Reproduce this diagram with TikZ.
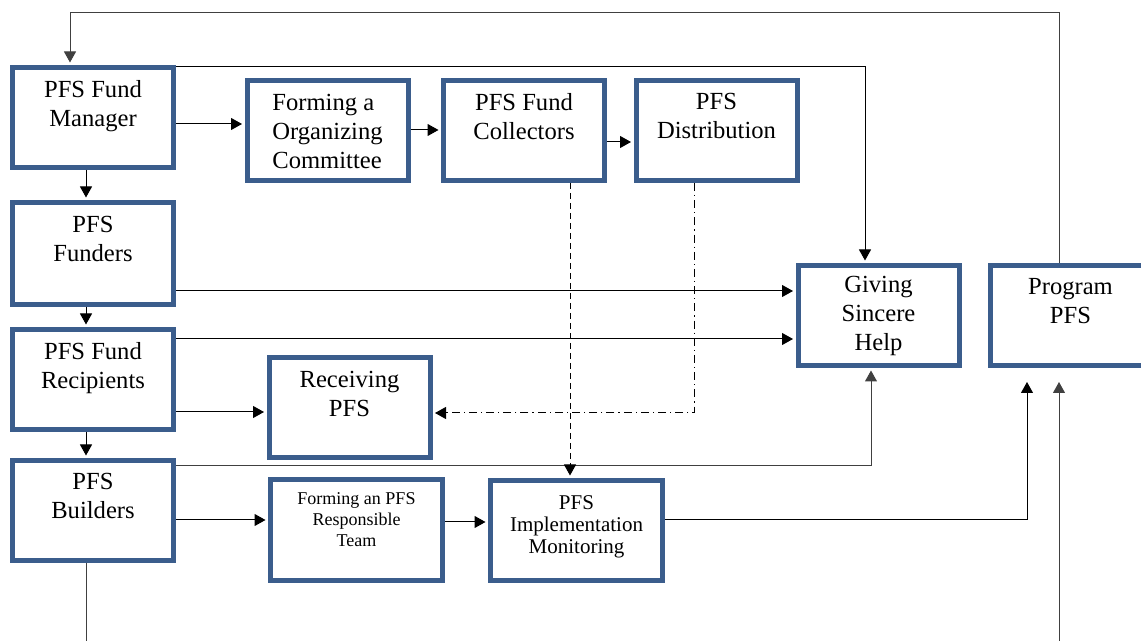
\documentclass[tikz,border=0pt]{standalone}
\usepackage{fontspec}
\setmainfont{Liberation Serif}
\usetikzlibrary{arrows.meta}

\definecolor{pfsblue}{RGB}{59,93,140}

\begin{document}
\begin{tikzpicture}[->,>={Triangle[length=5.5pt,width=6pt]},shorten >=1.25pt,
  x=0.5pt,y=-0.5pt,node distance=65.5pt,line width=0.5pt,
  pfs node/.style={rectangle,draw=pfsblue,line width=2.5pt,fill=white,align=center,
    minimum width=80.5pt,minimum height=50pt,inner sep=0pt,
    font=\fontsize{12.3}{14.5}\selectfont},
  wide node/.style={pfs node,minimum width=86pt},
  dash line/.style={dash pattern=on 3pt off 2pt},
  dashdot line/.style={dash pattern=on 4pt off 2pt on 0.6pt off 2pt}]
  \useasboundingbox (0,0) rectangle (1141,641);

  \node[pfs node] (manager) at (93,117.5) {PFS Fund\\Manager\\\mbox{}};
  \node[pfs node] (funders) [below of=manager,yshift=-2.5pt,minimum height=51pt] {PFS\\Funders\\\mbox{}};
  \node[pfs node] (recipients) [below of=manager,yshift=-65.5pt] {PFS Fund\\Recipients\\\mbox{}};
  \node[pfs node] (builders) [below of=recipients] {PFS\\Builders\\\mbox{}};

  \node[pfs node,align=left] (committee) at (327.5,131) {Forming a\\Organizing\\Committee};
  \node[pfs node] (collectors) at (524,130.5) {PFS Fund\\Collectors\\\mbox{}};
  \node[pfs node] (distribution) at (716.5,130.5) {PFS\\Distribution\\\mbox{}};
  \node[pfs node] (giving) at (878.5,315.5) {Giving\\Sincere\\Help};
  \node[pfs node] (program) at (1070.5,315.5) {Program\\PFS\\\mbox{}};
  \node[pfs node] (receiving) at (349.5,408) {Receiving\\PFS\\\mbox{}};
  \node[wide node,font=\fontsize{9}{10.5}\selectfont] (team) at (356.5,530)
    {Forming an PFS\\Responsible\\Team\\\mbox{}};
  \node[wide node,font=\fontsize{10.5}{11}\selectfont] (monitoring) at (576.5,530.5)
    {PFS\\Implementation\\Monitoring\\[-5.5pt]\mbox{}};

  % bends of the connectors
  \coordinate (colx) at (86,0);
  \coordinate (loopL) at (70,13);
  \coordinate (loopR) at (1059,13);
  \coordinate (topR) at (865,67);
  \coordinate (midR) at (871,466);
  \coordinate (monR) at (1027,520);
  \coordinate (botL) at (86,680);
  \coordinate (botR) at (1059,680);
  \coordinate (cutx) at (570,0);
  \coordinate (distR) at (694,413);

  \path
    (colx |- manager.south) edge (colx |- funders.north)
    (colx |- funders.south) edge (colx |- recipients.north)
    (colx |- recipients.south) edge (colx |- builders.north)
    (manager.east |- 0,124) edge (committee.west |- 0,124)
    (committee.east |- 0,130) edge (collectors.west |- 0,130)
    (collectors.east |- 0,142) edge (distribution.west |- 0,142)
    (funders.east |- 0,291) edge (giving.west |- 0,291)
    (recipients.east |- 0,339) edge (giving.west |- 0,339)
    (recipients.east |- 0,412) edge (receiving.west |- 0,412)
    (builders.east |- 0,520) edge (team.west |- 0,520)
    (team.east |- 0,522) edge (monitoring.west |- 0,522);

  \draw[black!75] (loopR |- program.north) -- (loopR) -- (loopL) -- (loopL |- manager.north);
  \draw (manager.east |- topR) -- (topR) -- (topR |- giving.north);
  \draw[black!75] (builders.east |- midR) -- (midR) -- (midR |- giving.south);
  \draw[shorten >=7pt] (monitoring.east |- monR) -- (monR) -- (monR |- program.south);
  \draw[black!75,shorten >=7pt] (colx |- builders.south) -- (botL) -- (botR) -- (botR |- program.south);
  \draw[dash line] (cutx |- collectors.south) -- (cutx |- monitoring.north);
  \draw[dashdot line] (distR |- distribution.south) -- (distR) -- (receiving.east |- distR);
\end{tikzpicture}
\end{document}
